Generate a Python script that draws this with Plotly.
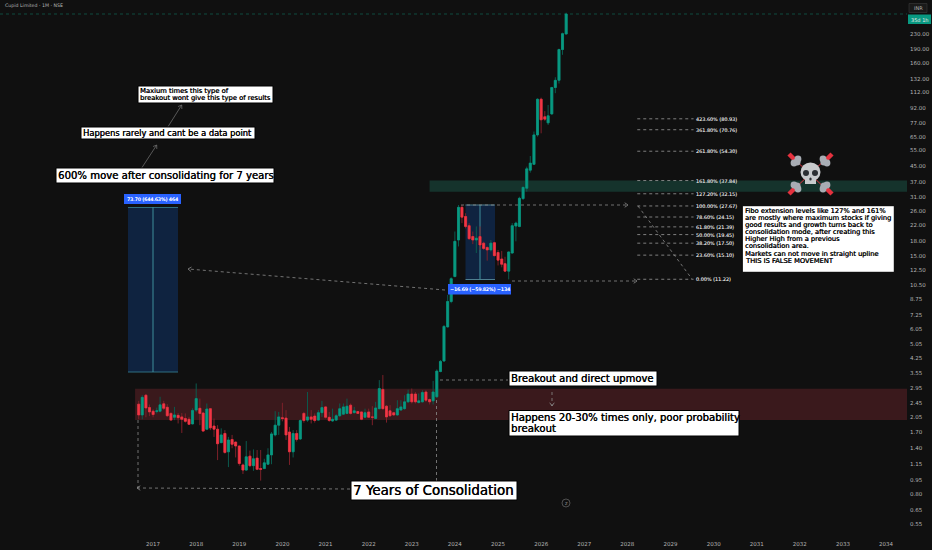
import math
import pandas as pd
import plotly.graph_objects as go

W = 907
H = 534
BG = "#101010"
GREEN = "#089981"
RED = "#f23645"
GREEN_DIM = "#0b5a4e"
RED_DIM = "#7c2029"
GREY = "#8c8c8c"
TXT = "#b4b4b4"
FONT = "DejaVu Sans"

# monthly candles, Sep 2016 to Aug 2026
months = pd.date_range("2016-09-01", periods=120, freq="MS")
highs = [2.51, 2.69, 2.73, 2.40, 2.26, 2.31, 2.64, 2.51, 2.41, 2.18, 2.33, 2.16, 2.16, 2.15, 2.06, 2.29, 3.11, 2.58, 2.19, 2.43,
         2.29, 2.02, 1.86, 1.79, 1.75, 1.61, 1.65, 1.52, 1.44, 1.16, 1.53, 1.36, 1.38, 1.37, 1.37, 1.23, 1.40, 1.71, 2.21, 2.19,
         2.45, 2.24, 1.82, 1.75, 1.75, 2.00, 2.19, 2.80, 2.24, 2.15, 2.24, 2.51, 2.35, 2.19, 2.28, 2.13, 2.43, 2.43, 2.58, 2.43,
         2.33, 2.22, 2.20, 2.28, 2.28, 2.35, 2.48, 3.24, 3.45, 2.38, 2.38, 2.19, 2.53, 2.53, 2.69, 2.88, 2.92, 2.80, 2.75, 2.86,
         2.86, 2.58, 3.21, 3.70, 4.15, 6.37, 9.26, 11.5, 20.2, 28.0, 28.0, 25.3, 22.4, 20.2, 21.5, 21.5, 17.8, 16.8, 18.2, 17.8,
         16.1, 15.9, 14.8, 15.8, 22.4, 22.8, 31.0, 35.1, 44.9, 51.2, 69.2, 104, 105, 89, 96, 120, 135, 192, 234, 299]
opens = [2.41, 2.11, 2.69, 2.31, 2.21, 2.20, 2.21, 2.42, 2.32, 2.15, 2.05, 2.10, 2.06, 2.02, 2.00, 1.89, 2.24, 2.29, 2.16, 1.77,
         2.28, 1.84, 1.77, 1.50, 1.68, 1.34, 1.56, 1.51, 1.44, 1.14, 1.07, 1.27, 1.13, 1.24, 1.09, 1.09, 1.15, 1.29, 1.65, 1.86,
         2.04, 2.03, 1.71, 1.34, 1.68, 1.57, 2.15, 1.98, 2.06, 2.08, 1.98, 2.17, 2.33, 2.05, 1.96, 1.98, 2.09, 2.13, 2.15, 2.38,
         2.17, 2.20, 2.19, 2.05, 2.19, 2.06, 2.02, 2.28, 2.89, 2.35, 2.22, 2.17, 2.11, 2.24, 2.28, 2.48, 2.73, 2.73, 2.46, 2.48,
         2.80, 2.55, 2.51, 2.64, 3.60, 4.10, 6.24, 8.53, 11.6, 18.2, 27.2, 24.3, 21.7, 19.0, 18.2, 19.0, 17.5, 16.6, 16.1, 17.6,
         15.6, 14.4, 13.6, 12.4, 15.5, 21.6, 21.5, 30.3, 34.4, 43.0, 46.2, 66.4, 103, 83, 77, 86, 119, 130, 190, 230]
lows = [2.00, 2.00, 2.05, 2.08, 2.05, 2.15, 2.18, 2.24, 2.06, 1.98, 1.98, 1.90, 1.69, 1.92, 1.87, 1.88, 2.19, 1.86, 1.71, 1.75,
        1.75, 1.61, 1.21, 1.49, 1.31, 1.11, 1.40, 1.25, 1.13, 1.02, 1.06, 1.11, 1.06, 1.07, 0.94, 1.09, 1.14, 1.15, 1.62, 1.65,
        1.95, 1.55, 1.14, 1.25, 1.52, 1.55, 1.92, 1.94, 1.90, 1.92, 1.97, 2.06, 2.02, 1.94, 1.94, 1.96, 2.06, 2.11, 2.13, 2.12,
        2.15, 2.15, 1.98, 2.04, 2.04, 1.86, 2.00, 2.26, 2.25, 1.92, 2.06, 2.09, 2.09, 2.24, 2.25, 2.45, 2.43, 2.43, 2.43, 2.46,
        2.48, 2.40, 2.40, 2.60, 3.57, 4.07, 6.19, 8.35, 11.5, 16.8, 22.4, 21.0, 18.2, 17.3, 15.5, 16.1, 16.1, 14.1, 15.8, 14.9,
        13.3, 13.0, 12.3, 11.2, 15.4, 17.9, 21.3, 29.8, 33.0, 41.7, 45.9, 65.0, 67.7, 79, 75, 85, 111, 125, 178, 229]
closes = [2.11, 2.62, 2.30, 2.19, 2.12, 2.22, 2.39, 2.29, 2.09, 1.98, 2.11, 2.04, 2.00, 1.95, 1.88, 2.23, 2.58, 2.15, 1.73, 2.27,
          1.80, 1.77, 1.48, 1.65, 1.33, 1.55, 1.47, 1.44, 1.16, 1.07, 1.26, 1.13, 1.23, 1.08, 1.08, 1.17, 1.29, 1.67, 1.86, 2.06,
          2.02, 1.65, 1.34, 1.68, 1.56, 1.97, 1.97, 2.06, 2.00, 1.97, 2.17, 2.31, 2.05, 1.97, 2.00, 2.09, 2.28, 2.33, 2.35, 2.15,
          2.22, 2.15, 2.00, 2.17, 2.05, 2.05, 2.30, 2.92, 2.28, 2.06, 2.09, 2.11, 2.28, 2.33, 2.48, 2.73, 2.48, 2.48, 2.51, 2.78,
          2.53, 2.48, 2.80, 3.62, 4.08, 6.28, 8.53, 11.3, 17.9, 27.2, 24.1, 21.5, 18.5, 18.2, 18.6, 17.1, 16.4, 16.1, 17.5, 15.0,
          14.2, 13.5, 12.4, 15.7, 21.7, 22.4, 30.4, 34.8, 43.7, 46.9, 66.4, 103, 80, 80.6, 84, 119, 130, 190, 231, 294]

price_ticks = [230, 190, 160, 132, 112, 92, 77, 65, 55, 45, 37, 31, 26, 22, 18, 15, 12.5, 10.5, 8.75, 7.25,
               6.05, 5.05, 4.25, 3.55, 2.95, 2.45, 2.05, 1.70, 1.40, 1.15, 0.95, 0.80, 0.65, 0.55]
year_ticks = [f"{y}-01-01" for y in range(2017, 2035)]
year_labels = [str(y) for y in range(2017, 2035)]

fib_pct = [423.6, 361.8, 261.8, 161.8, 127.2, 100, 78.6, 61.8, 50, 38.2, 23.6, 0]
fib_price = [80.93, 70.76, 54.30, 37.84, 32.15, 27.67, 24.15, 21.39, 19.45, 17.50, 15.10, 11.22]
fib_dates = ["2028-03-25", "2029-07-15"]

red_zone = [1.98, 2.91]
green_zone = [33.0, 37.9]

fibo_note = [
    "Fibo extension levels like 127% and 161%",
    "are mostly where maximum stocks if giving",
    "good results and growth turns back to",
    "consolidation mode, after creating this",
    "Higher High from a previous",
    "consolidation area.",
    "Markets can not move in straight upline",
    "THIS IS FALSE MOVEMENT",
]


def px(x):
    return x / W


def py(y):
    return 1 - y / H


shapes = []
annotations = []


def rect(x0, y0, x1, y1, fill, line=None, layer="above"):
    shapes.append(dict(type="rect", xref="paper", yref="paper", x0=px(x0), x1=px(x1), y0=py(y0), y1=py(y1),
                       fillcolor=fill, line=dict(width=1 if line else 0, color=line or fill), layer=layer))


def seg(x0, y0, x1, y1, color=GREY, width=0.8, dash="dot", layer="above"):
    shapes.append(dict(type="line", xref="paper", yref="paper", x0=px(x0), x1=px(x1), y0=py(y0), y1=py(y1),
                       line=dict(color=color, width=width, dash=dash), layer=layer))


def arrow(x0, y0, x1, y1, color=GREY, dash="dot"):
    seg(x0, y0, x1, y1, color, dash=dash)
    ang = math.atan2(y0 - y1, x0 - x1)
    for d in (0.6, -0.6):
        seg(x1, y1, x1 + 4 * math.cos(ang + d), y1 + 4 * math.sin(ang + d), color, dash="solid")


def label(x, y, text, size, color="#000000", anchor="left", shadow=None):
    annotations.append(dict(xref="paper", yref="paper", x=px(x), y=py(y), text=text, showarrow=False, xanchor=anchor,
                            yanchor="middle", font=dict(family=FONT, size=size, color=color, shadow=shadow or "none")))


def note(x0, y0, x1, y1, lines, size, step, top=None):
    rect(x0, y0, x1, y1, "#ffffff", "#000000")
    if top is None:
        top = y0 + (y1 - y0 - step * (len(lines) - 1)) / 2
    for i, line in enumerate(lines):
        label(x0 + 0.3, top + i * step, line, size, shadow="0.35px 0 0 #000000")


def dot(cx, cy, rx, ry, fill):
    shapes.append(dict(type="circle", xref="paper", yref="paper", x0=px(cx - rx), x1=px(cx + rx), y0=py(cy - ry), y1=py(cy + ry),
                       fillcolor=fill, line=dict(width=0)))


fig = go.Figure()
# full candles give the dim wicks, body-only candles sit on top of them
fig.add_trace(go.Candlestick(x=months, open=opens, high=highs, low=lows, close=closes,
                             increasing=dict(line=dict(color=GREEN_DIM, width=1), fillcolor=GREEN_DIM),
                             decreasing=dict(line=dict(color=RED_DIM, width=1), fillcolor=RED_DIM),
                             whiskerwidth=0, showlegend=False))
fig.add_trace(go.Candlestick(x=months, open=opens, close=closes,
                             high=[max(a, b) for a, b in zip(opens, closes)],
                             low=[min(a, b) for a, b in zip(opens, closes)],
                             increasing=dict(line=dict(color=GREEN, width=0.6), fillcolor=GREEN),
                             decreasing=dict(line=dict(color=RED, width=0.6), fillcolor=RED),
                             whiskerwidth=0, showlegend=False))

for pct, val in zip(fib_pct, fib_price):
    fig.add_trace(go.Scatter(x=fib_dates, y=[val, val], mode="lines", showlegend=False,
                             line=dict(color="#9a9a9a", width=0.8, dash="3px,3px")))
    annotations.append(dict(xref="x", yref="y", x=fib_dates[1], y=math.log10(val), text=f"{pct:.2f}% ({val:.2f})",
                            showarrow=False, xanchor="left", yanchor="middle", xshift=0,
                            font=dict(family=FONT, size=4.9, color="#d0d0d0", shadow="0.1px 0 0 #d0d0d0")))

# zones
shapes.append(dict(type="rect", xref="x", yref="y", x0="2016-08-01", x1="2034-06-27", y0=red_zone[0], y1=red_zone[1],
                   fillcolor="#3a191c", line=dict(width=0), layer="below"))
shapes.append(dict(type="rect", xref="x", yref="y", x0="2023-06-01", x1="2034-06-27", y0=green_zone[0], y1=green_zone[1],
                   fillcolor="#15332c", line=dict(width=0), layer="below"))

# measure boxes
rect(128, 207, 178, 372, "#0f2340", layer="below")
seg(128, 207.5, 178, 207.5, "#2f6f80", 1, "solid", "below")
seg(128, 372, 178, 372, "#2f6f80", 1, "solid", "below")
seg(153, 207, 153, 372, "#3f8f9a", 1, "solid", "below")
rect(124, 194, 181, 204, "#2962ff")
label(152.5, 199, "73.70 (644.63%) 464", 4.8, "#ffffff", "center", "0.2px 0 0 #ffffff")

rect(465.5, 205, 495, 279.5, "#0f2340", layer="below")
seg(465.5, 205, 495, 205, "#4f7f90", 1, "solid", "below")
seg(465.5, 279.5, 495, 279.5, "#4f7f90", 1, "solid", "below")
seg(480, 205, 480, 279.5, "#3f8f9a", 1, "solid", "below")
rect(448, 284, 511, 294.5, "#2962ff")
label(479.5, 289.3, "\u221216.69 (\u221259.82%) \u2212134", 4.8, "#ffffff", "center", "0.2px 0 0 #ffffff")

# last price line
seg(0, 14, 907, 14, "#0f5a4c", 0.8, "dot", "below")

# arrows and guides
arrow(141.7, 168, 156.7, 145, "#6a6a6a", "solid")
arrow(168, 126.7, 181.7, 105, "#6a6a6a", "solid")
arrow(445, 290, 188, 269)
arrow(461, 205, 628, 205)
arrow(512, 281, 637, 281)
seg(638, 206, 692, 279)
arrow(350, 489, 137, 488)
seg(138, 420, 138, 488)
seg(436.5, 400, 436.5, 482)
seg(440, 380, 508, 380)
arrow(552, 392, 552, 406)

# text boxes
note(138, 86, 273, 103, ["Maxium times this type of", "breakout wont give this type of results"], 6.75, 7.3)
note(81, 127, 255, 139, ["Happens rarely and cant be a data point"], 8.3, 0)
note(56, 168, 274, 183, ["600% move after consolidating for 7 years"], 10.1, 0)
note(509, 371, 657, 386, ["Breakout and direct upmove"], 10, 0)
note(509, 410.5, 739, 436, ["Happens 20-30% times only, poor probability", "breakout"], 10.1, 10.8)
note(351, 481, 517, 500, ["7 Years of Consolidation"], 13.4, 0)
note(742.3, 205.7, 894.3, 272.3, fibo_note, 6.7, 7.15, top=210.7)

# skull and crossbones
for x0, y0, x1, y1 in [(790, 155, 830, 193), (830, 155, 790, 193)]:
    seg(x0, y0, x1, y1, "#e5323f", 1, "solid")
for x0, y0, x1, y1 in [(789, 154, 796, 161), (832, 154, 825, 161), (789, 194, 796, 187), (832, 194, 825, 187)]:
    seg(x0, y0, x1, y1, "#e5323f", 4.5, "solid")
for cx, cy, sx, sy in [(797, 162, -1, -1), (824, 162, 1, -1), (797, 186, -1, 1), (824, 186, 1, 1)]:
    dot(cx - sx, cy + 3 * sy, 3.4, 3.4, "#a8adb4")
    dot(cx + 3 * sx, cy - sy, 3.4, 3.4, "#a8adb4")
    dot(cx, cy, 3.6, 3.6, "#a8adb4")
dot(810.5, 172, 10, 9.5, "#c8cacc")
rect(805, 177, 816, 184, "#c8cacc")
dot(806, 173, 3, 3, "#2c2f33")
dot(815, 173, 3, 3, "#2c2f33")
dot(810.5, 179, 1.2, 1.5, "#2c2f33")

# header and price scale extras
label(3, 5.5, "Cupid Limited \u00b7 1M \u00b7 NSE", 4.7, TXT)
shapes.append(dict(type="rect", xref="paper", yref="paper", x0=px(909), x1=px(927), y0=py(3.5), y1=py(12.5),
                   fillcolor="#1a1a1a", line=dict(width=0.6, color="#3a3a3a")))
label(918, 8, "INR", 5, TXT, "center")
rect(908, 14.5, 931, 24, GREEN)
label(919.5, 19.5, "35d 1h", 5, "#e8e8e8", "center")
dot(566, 503, 4, 4, BG)
shapes.append(dict(type="circle", xref="paper", yref="paper", x0=px(562), x1=px(570), y0=py(499), y1=py(507),
                   line=dict(width=0.7, color="#6a6a6a")))
label(566, 503, "z", 5, "#8a8a8a", "center")

fig.update_layout(
    width=932,
    height=550,
    margin=dict(l=0, r=25, t=0, b=16, pad=0),
    paper_bgcolor=BG,
    plot_bgcolor=BG,
    showlegend=False,
    boxmode="overlay",
    boxgap=0.12,
    shapes=shapes,
    annotations=annotations,
    font=dict(family=FONT, color=TXT, size=5.5),
    xaxis=dict(type="date", range=["2013-06-14", "2034-06-27"], rangeslider=dict(visible=False), showgrid=False,
               zeroline=False, tickmode="array", tickvals=year_ticks, ticktext=year_labels, ticks="",
               tickfont=dict(size=5.5, color=TXT), ticklabelstandoff=5, showline=False),
    yaxis=dict(type="log", side="right", range=[math.log10(0.487), math.log10(349.6)], showgrid=False, zeroline=False,
               tickmode="array", tickvals=price_ticks, ticktext=[f"{v:.2f}" for v in price_ticks], ticks="",
               tickfont=dict(size=5.5, color=TXT), ticklabelstandoff=2, showline=False),
)

fig.write_html("out.html", config=dict(displayModeBar=False),
               post_script="document.body.style.margin='0';document.body.style.background='" + BG + "';")
